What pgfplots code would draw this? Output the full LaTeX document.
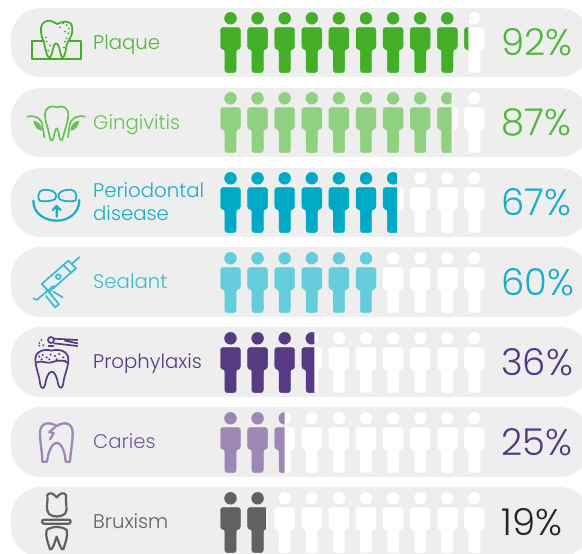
\documentclass[border=0pt]{standalone}
\usepackage{fontspec}
\setmainfont{Poppins}
\newfontfamily\lightf{Poppins Light}
\usepackage{pgfplots}
\pgfplotsset{compat=1.18}
\definecolor{pill}{HTML}{EEEEEE}
\definecolor{cA}{HTML}{43AE27}
\definecolor{cB}{HTML}{8FD081}
\definecolor{cC}{HTML}{00A9C6}
\definecolor{cD}{HTML}{65CCDC}
\definecolor{cE}{HTML}{563A82}
\definecolor{cF}{HTML}{9D87B5}
\definecolor{cG}{HTML}{616161}
\definecolor{tA}{HTML}{4FB73A}
\definecolor{tB}{HTML}{66C454}
\definecolor{tC}{HTML}{18AECA}
\definecolor{tD}{HTML}{38BCD2}
\definecolor{tE}{HTML}{543A82}
\definecolor{tF}{HTML}{735A9A}
\definecolor{tG}{HTML}{626262}
\newcommand\personshape{%
  \fill (0pt,24.2pt) circle (6pt);
  \fill[rounded corners=2.6pt] (0pt,15pt) -- (10pt,15pt) -- (10pt,-6.5pt) -- (5.7pt,-6.5pt) -- (5.7pt,-30.2pt) -- (-5.7pt,-30.2pt) -- (-5.7pt,-6.5pt) -- (-10pt,-6.5pt) -- (-10pt,15pt) -- cycle;}
\pgfdeclareplotmark{person}{\personshape}
\newcommand\declcut[2]{\pgfdeclareplotmark{#1}{%
  \pgfpathrectangle{\pgfpoint{-14pt}{-35pt}}{\pgfpoint{\dimexpr14pt+#2pt\relax}{70pt}}%
  \pgfusepath{clip}\personshape}}
\declcut{cutA}{-6.1}
\declcut{cutB}{4.4}
\declcut{cutC}{4.0}
\declcut{cutE}{2.5}
\declcut{cutF}{0.0}
\declcut{cutG}{8.4}
\pgfplotstableread{
x r1 r2 r3 r4 r5 r6 r7
230.5 511.5 431.5 351.5 271.5 191.5 111.5 31.5
257.6 511.5 431.5 351.5 271.5 191.5 111.5 31.5
284.7 511.5 431.5 351.5 271.5 191.5 111.5 31.5
311.8 511.5 431.5 351.5 271.5 191.5 111.5 31.5
338.9 511.5 431.5 351.5 271.5 191.5 111.5 31.5
366.0 511.5 431.5 351.5 271.5 191.5 111.5 31.5
393.1 511.5 431.5 351.5 271.5 191.5 111.5 31.5
420.2 511.5 431.5 351.5 271.5 191.5 111.5 31.5
447.3 511.5 431.5 351.5 271.5 191.5 111.5 31.5
474.4 511.5 431.5 351.5 271.5 191.5 111.5 31.5
}\persons
\newcommand\icons{%
  \begin{scope}[shift={(0pt,554pt)},x=0.33333pt,y=-0.33333pt,line width=1.7pt,line cap=round,line join=round]
  % Plaque
  \begin{scope}[color=cA]
   \draw (132,122)--(95,122)--(95,176)--(242,176)--(242,122)--(208,122);
   \draw (128,118) .. controls (118,90) and (120,62) .. (150,62) .. controls (160,62) and (165,72) .. (172,72) .. controls (185,65) and (215,55) .. (217,85) .. controls (218,110) and (205,120) .. (200,135) .. controls (197,150) and (195,172) .. (188,172) .. controls (180,172) and (180,130) .. (168,130) .. controls (158,130) and (158,172) .. (148,172) .. controls (138,172) and (135,130) .. (128,118);
   \foreach \p in {(140,125),(150,136),(145,152),(138,112),(195,125),(200,115),(192,142),(200,75),(207,86),(190,70),(180,82),(195,95),(205,100)} \fill \p circle (3.2);
  \end{scope}
  % Gingivitis
  \begin{scope}[color=tB]
   \draw (170,322) .. controls (185,315) and (205,320) .. (205,345) .. controls (205,365) and (195,385) .. (190,410) .. controls (187,428) and (180,420) .. (178,410) .. controls (176,395) and (172,385) .. (170,385) .. controls (166,385) and (164,400) .. (160,415) .. controls (156,428) and (150,420) .. (148,405) .. controls (145,385) and (135,365) .. (135,345) .. controls (135,320) and (155,315) .. (170,322);
   \draw (82,350) .. controls (105,345) and (125,352) .. (128,380) -- (133,412);
   \draw (255,350) .. controls (232,345) and (212,352) .. (208,380) -- (204,412);
   \fill (100,362) .. controls (112,362) and (128,375) .. (126,392) .. controls (112,392) and (102,378) .. (100,362);
   \fill (238,362) .. controls (226,362) and (210,375) .. (212,392) .. controls (226,392) and (236,378) .. (238,362);
  \end{scope}
  \begin{scope}[yshift=-170pt,color=tC]
   % Periodontal
   \draw[line width=2.2pt] (100,92) .. controls (100,135) and (140,152) .. (170,152) .. controls (205,152) and (238,130) .. (238,90);
   \draw (118,92) .. controls (108,65) and (125,55) .. (145,60) .. controls (165,62) and (175,75) .. (165,88) .. controls (150,95) and (130,95) .. (118,92);
   \draw (226,92) .. controls (236,65) and (219,55) .. (199,60) .. controls (179,62) and (169,75) .. (179,88) .. controls (194,95) and (214,95) .. (226,92);
   \draw[line width=2.2pt] (170,140)--(170,108) (158,120)--(170,108)--(182,120);
  \end{scope}
  \begin{scope}[yshift=-170pt,color=tD]
   % Sealant
   \draw (238,262)--(215,282);
   \draw (205,272)--(228,295)--(148,365)--(125,342)--cycle;
   \draw (190,285)--(213,308);
   \draw (175,320) circle (7);
   \draw (100,385)--(110,390)--(160,348);
   \draw (138,358)--(158,378);
   \draw (150,370)--(177,403)--(165,412)--(138,378);
   \draw (160,365)--(188,382);
  \end{scope}
  \begin{scope}[yshift=-320pt,color=cE]
   % Prophylaxis
   \draw (155,92) .. controls (130,85) and (105,95) .. (106,120) .. controls (108,150) and (118,165) .. (120,190) .. controls (122,208) and (132,208) .. (135,195) .. controls (138,175) and (145,155) .. (155,155) .. controls (165,155) and (172,175) .. (175,195) .. controls (180,208) and (188,205) .. (190,190) .. controls (192,165) and (205,145) .. (205,118) .. controls (205,95) and (180,85) .. (155,92);
   \draw (108,128) .. controls (125,120) and (135,130) .. (150,128) .. controls (165,125) and (180,115) .. (203,128);
   \foreach \p in {(118,110),(128,105),(140,112),(152,104),(165,108),(178,102),(190,112),(195,122),(125,118),(148,118),(170,118)} \fill \p circle (3.4);
   \draw (153,60) circle (9);
   \draw (162,56)--(232,60) (162,70)--(232,78) (195,62)--(232,70);
   \draw (146,78)--(160,78);
   \foreach \p in {(124,60),(118,69),(130,76),(118,77)} \fill \p circle (3);
  \end{scope}
  \begin{scope}[yshift=-320pt,color=cF,line width=2.3pt]
   % Caries
   \draw (170,318) .. controls (150,305) and (120,305) .. (120,340) .. controls (120,365) and (127,400) .. (127,425) -- (141,425) .. controls (145,395) and (155,370) .. (170,368) .. controls (185,370) and (195,395) .. (197,425) -- (210,425) .. controls (212,395) and (218,365) .. (218,340) .. controls (218,305) and (190,305) .. (170,318);
   \draw (165,322)--(148,336)--(161,340)--(150,358);
  \end{scope}
  \begin{scope}[yshift=-320pt,color=cG,line width=2.2pt]
   % Bruxism
   \draw (142,525) .. controls (150,515) and (160,520) .. (170,532) .. controls (180,520) and (190,515) .. (198,525) .. controls (195,545) and (205,570) .. (195,582) .. controls (180,592) and (160,592) .. (147,582) .. controls (135,570) and (145,545) .. (142,525);
   \draw[rounded corners=2pt] (126,599) rectangle (212,611);
   \draw (140,630) .. controls (155,618) and (185,618) .. (200,630) .. controls (205,650) and (195,670) .. (190,688) .. controls (183,692) and (178,670) .. (170,650) .. controls (163,670) and (158,692) .. (150,688) .. controls (145,670) and (135,650) .. (140,630);
  \end{scope}
  \end{scope}}
\tikzset{lab/.style={anchor=base west,inner sep=0pt,font=\lightf\fontsize{19.7}{22}\selectfont},
 pct/.style={anchor=base west,inner sep=0pt,font=\lightf\fontsize{37}{40}\selectfont}}
\begin{document}
\begin{tikzpicture}
\begin{axis}[hide axis,width=582pt,height=554pt,scale only axis,
  xmin=0,xmax=582,ymin=0,ymax=554,clip=true,
  pp/.style={draw=none,fill=pill,rounded corners=30pt,forget plot},
  wh/.style={only marks,mark=person,color=white,mark options={fill=white,draw=none}},
  col/.style={only marks,mark=person,color=#1,mark options={fill=#1,draw=none}}]
\addplot[pp] coordinates {(11,546)(590,546)(590,477)(11,477)} -- cycle;
\addplot[pp] coordinates {(11,466)(590,466)(590,397)(11,397)} -- cycle;
\addplot[pp] coordinates {(11,386)(590,386)(590,317)(11,317)} -- cycle;
\addplot[pp] coordinates {(11,307)(590,307)(590,237)(11,237)} -- cycle;
\addplot[pp] coordinates {(11,227)(590,227)(590,157)(11,157)} -- cycle;
\addplot[pp] coordinates {(11,147)(590,147)(590,77)(11,77)} -- cycle;
\addplot[pp] coordinates {(11,67)(590,67)(590,-3)(11,-3)} -- cycle;
\addplot[wh] table[x=x,y=r1]{\persons};
\addplot[wh] table[x=x,y=r2]{\persons};
\addplot[wh] table[x=x,y=r3]{\persons};
\addplot[wh] table[x=x,y=r4]{\persons};
\addplot[wh] table[x=x,y=r5]{\persons};
\addplot[wh] table[x=x,y=r6]{\persons};
\addplot[wh] table[x=x,y=r7]{\persons};
% Plaque 92
\addplot[col=cA] coordinates {(230.5,511.5)(257.6,511.5)(284.7,511.5)(311.8,511.5)(338.9,511.5)(366.0,511.5)(393.1,511.5)(420.2,511.5)(447.3,511.5)};
\addplot[col=cA,mark=cutA] coordinates {(474.4,511.5)};
% Gingivitis 87
\addplot[col=cB] coordinates {(230.5,431.5)(257.6,431.5)(284.7,431.5)(311.8,431.5)(338.9,431.5)(366.0,431.5)(393.1,431.5)(420.2,431.5)};
\addplot[col=cB,mark=cutB] coordinates {(447.3,431.5)};
% Periodontal 67
\addplot[col=cC] coordinates {(230.5,351.5)(257.6,351.5)(284.7,351.5)(311.8,351.5)(338.9,351.5)(366.0,351.5)};
\addplot[col=cC,mark=cutC] coordinates {(393.1,351.5)};
% Sealant 60
\addplot[col=cD] coordinates {(230.5,271.5)(257.6,271.5)(284.7,271.5)(311.8,271.5)(338.9,271.5)(366.0,271.5)};
% Prophylaxis 36
\addplot[col=cE] coordinates {(230.5,191.5)(257.6,191.5)(284.7,191.5)};
\addplot[col=cE,mark=cutE] coordinates {(311.8,191.5)};
% Caries 25
\addplot[col=cF] coordinates {(230.5,111.5)(257.6,111.5)};
\addplot[col=cF,mark=cutF] coordinates {(284.7,111.5)};
% Bruxism 19
\addplot[col=cG] coordinates {(230.5,31.5)};
\addplot[col=cG,mark=cutG] coordinates {(257.6,31.5)};
\node[lab,text=tA] at (axis cs:93,504.4) {Plaque};
\node[lab,text=tB] at (axis cs:93,424.9) {Gingivitis};
\node[lab,text=tC] at (axis cs:93,356.7) {Periodontal};
\node[lab,text=tC] at (axis cs:93,333.4) {disease};
\node[lab,text=tD] at (axis cs:93,265.4) {Sealant};
\node[lab,text=tE] at (axis cs:93,185.1) {Prophylaxis};
\node[lab,text=tF] at (axis cs:93,105.4) {Caries};
\node[lab,text=tG] at (axis cs:93,25.4) {Bruxism};
\node[pct,text=tA] at (axis cs:501,498) {92\%};
\node[pct,text=tA] at (axis cs:501,418) {87\%};
\node[pct,text=tC] at (axis cs:501,338) {67\%};
\node[pct,text=tC] at (axis cs:501,258) {60\%};
\node[pct,text=tE] at (axis cs:501,178) {36\%};
\node[pct,text=tE] at (axis cs:501,98) {25\%};
\node[pct,text=black!85] at (axis cs:501,18) {19\%};
\end{axis}
\icons
\pgfresetboundingbox
\path (0,0) rectangle (582pt,554pt);
\end{tikzpicture}
\end{document}
